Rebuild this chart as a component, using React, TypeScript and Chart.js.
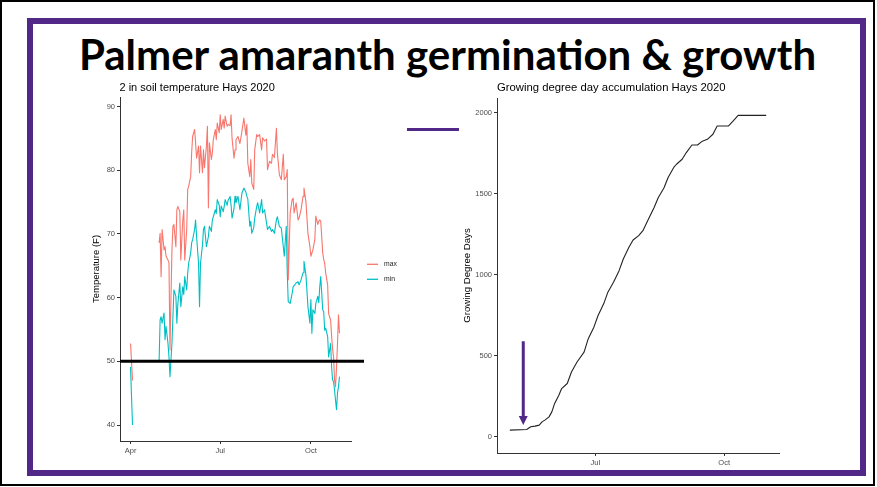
import React, { useEffect, useRef } from 'react';
import { Chart, registerables } from 'chart.js';

Chart.register(...registerables);

const FONT = '"Liberation Sans", Arial, Helvetica, sans-serif';
const PURPLE = '#512888';

// ---- shared month ticks (days counted from Apr 1) ----
const monthTickDays = [0, 91, 183];
const monthTickLabels = ['Apr', 'Jul', 'Oct'];

// ---- left chart: 2 in soil temperature ----
const tempTicks = [40, 50, 60, 70, 80, 90];
const seriesNames = ['max', 'min'];
const seriesColors = ['#F8766D', '#00BFC4'];
const threshold = 50;

const soilDays = [
  0, 1, 2, 15, 29, 30, 31, 32, 34, 35,
  36, 38, 39, 40, 42, 43, 44, 46, 47, 48,
  50, 51, 53, 54, 55, 57, 58, 59, 61, 62,
  63, 65, 66, 67, 69, 70, 71, 73, 74, 75,
  77, 78, 79, 80, 82, 83, 84, 86, 87, 88,
  90, 91, 92, 94, 95, 96, 98, 99, 101, 102,
  103, 105, 106, 107, 109, 111, 113, 115, 117, 118,
  119, 121, 122, 123, 125, 126, 128, 129, 131, 133,
  134, 136, 138, 139, 141, 143, 144, 146, 148, 149,
  151, 153, 155, 156, 158, 159, 160, 162, 164, 165,
  166, 168, 170, 171, 173, 175, 176, 178, 180, 182,
  183, 184, 185, 187, 188, 190, 191, 192, 193, 195,
  196, 197, 198, 200, 201, 203, 204, 205, 206, 207,
  208, 209, 210, 211, 212,
];
const maxTemp = [
  52.8, 50, 47, null, 68.6, 70.1, 63.3, 70.7, 67.5, 68,
  66.5, 65.9, 65.5, 51.8, 67.5, 71.2, 71.5, 68, 73.8, 74.3,
  73.5, 65.9, 72.2, 73.8, 65.9, 70.7, 77, 77.5, 79, 82.7,
  85.3, 86.4, 84.3, 81.9, 83.8, 79.6, 83.8, 79.6, 83.2, 80.4,
  83.8, 86.9, 74.1, 84.3, 81.7, 82.7, 84.8, 86.4, 84.8, 87.4,
  85.9, 88.7, 86.4, 88, 86.6, 88.5, 86.9, 87.2, 87, 88.7,
  85, 81.9, 83.2, 84.8, 85.3, 84.2, 86.1, 88.2, 85.5, 87.2,
  81.1, 79, 81.7, 78, 77, 83.2, 85.6, 85.3, 85.6, 83.2,
  85.1, 84.6, 84.9, 80.1, 81.4, 81.1, 82.5, 82, 86.6, 82.7,
  79.3, 78.5, 82.5, 78.5, 79, 80.1, 62.8, 73.3, 75.4, 75.6,
  73.3, 74.9, 72.2, 72.5, 73.8, 75.9, 77.2, 75, 70.1, 68,
  66.5, 67, 67.5, 69.1, 72.8, 71.5, 72, 72.2, 72, 67,
  66, 65.4, 63.9, 62, 57.5, 56.5, 54, 52, 50.7, 47.1,
  46, 49, 52.8, 57.3, 54.4,
];
const minTemp = [
  49.1, 44.5, 40, null, 50.2, 56.5, 57, 56, 57.6, 53.4,
  55.5, 52.8, 50.7, 47.6, 52.8, 57, 61.2, 60.2, 56, 59,
  62.3, 58.6, 61.7, 60.5, 63.3, 61.2, 63.9, 65.4, 67, 68.6,
  69.1, 70.7, 72.2, 69.6, 65.4, 58.6, 65.4, 68.3, 70.7, 71.2,
  68, 68.8, 69.6, 71.2, 70.4, 72.2, 72.7, 73.8, 73.2, 75.4,
  74.5, 72.7, 74.4, 73.5, 74.3, 75.4, 74.5, 75.3, 75.9, 74.5,
  72.5, 74, 75.9, 74.9, 75.9, 73.8, 76.4, 77.2, 76.6, 75.9,
  75.5, 71.2, 72, 70.1, 71, 72.5, 74.3, 74.9, 73.3, 75.4,
  73.3, 73.8, 71.7, 70.7, 71.2, 70.4, 70.7, 70.1, 72.2, 72.7,
  71.2, 70.9, 68, 66.5, 71.2, 64, 59.4, 59.1, 60.7, 61.7,
  61.9, 62.3, 62.5, 62, 62.8, 63.9, 65.7, 63.5, 58.6, 56,
  59.7, 54.4, 58.1, 57.5, 59.1, 60.2, 59.2, 61.7, 63.3, 58.1,
  57.8, 54.9, 55.2, 53.9, 50.7, 52.8, 49.2, 47.1, 46.8, 45.5,
  43.9, 42.4, 45, 46, 47.6,
];

// ---- right chart: growing degree days ----
const gddTicks = [0, 500, 1000, 1500, 2000];
const gddDays = [
  30, 42, 45, 48, 51, 53, 55, 58, 60, 62,
  65, 67, 71, 74, 78, 83, 86, 90, 93, 97,
  100, 104, 108, 111, 115, 118, 122, 125, 129, 133,
  136, 140, 143, 147, 149, 153, 156, 160, 164, 167,
  171, 175, 178, 186, 189, 193, 213,
];
const gddValues = [
  41, 45, 62, 66, 72, 92, 103, 123, 154, 206,
  257, 298, 329, 400, 462, 523, 606, 677, 749, 821,
  893, 954, 1026, 1098, 1170, 1215, 1242, 1273, 1345, 1416,
  1478, 1536, 1601, 1663, 1683, 1714, 1755, 1802, 1802, 1823,
  1837, 1868, 1919, 1919, 1946, 1985, 1985,
];
// annotation arrow (day, from GDD, to GDD)
const arrowDay = 39.6;
const arrowFrom = 590;
const arrowTo = 73;

function axis(tickVals: number[], labels: string[] | null, fit: (s: any) => void) {
  return {
    type: 'linear' as const,
    border: { display: true, color: '#333333', width: 1 },
    grid: {
      display: true,
      drawOnChartArea: false,
      drawTicks: true,
      tickLength: 3,
      tickColor: '#333333',
      tickWidth: 1,
    },
    ticks: {
      color: '#4D4D4D',
      font: { family: FONT, size: 7.5 },
      padding: 2,
      autoSkip: false,
      maxRotation: 0,
      minRotation: 0,
      callback: (v: any, i: number) => (labels ? labels[i] : String(v)),
    },
    afterBuildTicks: (s: any) => {
      s.ticks = tickVals.map((v) => ({ value: v }));
    },
    afterFit: fit,
  };
}

const leftDecor = {
  id: 'leftDecor',
  afterDatasetsDraw(chart: any) {
    const { ctx, chartArea, scales } = chart;
    const py = scales.y.getPixelForValue(threshold);
    ctx.save();
    ctx.strokeStyle = '#000';
    ctx.lineWidth = 3;
    ctx.beginPath();
    ctx.moveTo(chartArea.left, py);
    ctx.lineTo(chartArea.right + 13, py);
    ctx.stroke();
    ctx.restore();
  },
  afterDraw(chart: any) {
    const { ctx, chartArea } = chart;
    ctx.save();
    ctx.fillStyle = '#000';
    ctx.font = `11px ${FONT}`;
    ctx.textAlign = 'left';
    ctx.textBaseline = 'alphabetic';
    ctx.fillText('2 in soil temperature Hays 2020', chartArea.left - 0.5, 15);
    // y title
    ctx.save();
    ctx.translate(11, (chartArea.top + chartArea.bottom) / 2);
    ctx.rotate(-Math.PI / 2);
    ctx.textAlign = 'center';
    ctx.font = `9.5px ${FONT}`;
    ctx.fillText('Temperature (F)', 0, 0);
    ctx.restore();
    // legend
    const cy = (chartArea.top + chartArea.bottom) / 2;
    const ys = [cy - 4.7, cy + 10.3];
    seriesNames.forEach((name, i) => {
      ctx.strokeStyle = seriesColors[i];
      ctx.lineWidth = 1.3;
      ctx.beginPath();
      ctx.moveTo(chartArea.right + 16, ys[i]);
      ctx.lineTo(chartArea.right + 27, ys[i]);
      ctx.stroke();
      ctx.fillStyle = '#222';
      ctx.font = `6.8px ${FONT}`;
      ctx.textBaseline = 'middle';
      ctx.fillText(name, chartArea.right + 33, ys[i]);
    });
    ctx.restore();
  },
};

const rightDecor = {
  id: 'rightDecor',
  afterDraw(chart: any) {
    const { ctx, chartArea, scales } = chart;
    ctx.save();
    ctx.fillStyle = '#000';
    ctx.font = `11.3px ${FONT}`;
    ctx.textAlign = 'left';
    ctx.textBaseline = 'alphabetic';
    ctx.fillText('Growing degree day accumulation Hays 2020', chartArea.left, 15);
    ctx.save();
    ctx.translate(14.5, (chartArea.top + chartArea.bottom) / 2);
    ctx.rotate(-Math.PI / 2);
    ctx.textAlign = 'center';
    ctx.font = `9.6px ${FONT}`;
    ctx.fillText('Growing Degree Days', 0, 0);
    ctx.restore();
    // arrow annotation
    const ax = scales.x.getPixelForValue(arrowDay);
    const y0 = scales.y.getPixelForValue(arrowFrom);
    const y1 = scales.y.getPixelForValue(arrowTo);
    ctx.strokeStyle = PURPLE;
    ctx.fillStyle = PURPLE;
    ctx.lineWidth = 3;
    ctx.beginPath();
    ctx.moveTo(ax, y0);
    ctx.lineTo(ax, y1 - 7);
    ctx.stroke();
    ctx.beginPath();
    ctx.moveTo(ax - 4.5, y1 - 9);
    ctx.lineTo(ax + 4.5, y1 - 9);
    ctx.lineTo(ax, y1);
    ctx.closePath();
    ctx.fill();
    ctx.restore();
  },
};

export default function App() {
  const leftRef = useRef<HTMLCanvasElement>(null);
  const rightRef = useRef<HTMLCanvasElement>(null);

  useEffect(() => {
    const left = new Chart(leftRef.current as HTMLCanvasElement, {
      type: 'line',
      data: {
        datasets: [
          {
            label: seriesNames[1],
            data: soilDays.map((d, i) => ({ x: d, y: minTemp[i] })) as any,
            borderColor: seriesColors[1],
            borderWidth: 1.1,
            pointRadius: 0,
            tension: 0,
            spanGaps: false,
            borderJoinStyle: 'round',
          },
          {
            label: seriesNames[0],
            data: soilDays.map((d, i) => ({ x: d, y: maxTemp[i] })) as any,
            borderColor: seriesColors[0],
            borderWidth: 1.1,
            pointRadius: 0,
            tension: 0,
            spanGaps: false,
            borderJoinStyle: 'round',
          },
        ],
      },
      options: {
        animation: false,
        responsive: false,
        events: [],
        layout: { padding: { top: 21, left: 0, right: 57, bottom: 5 } },
        plugins: {
          legend: { display: false },
          title: { display: false },
          tooltip: { enabled: false },
        },
        scales: {
          x: {
            ...axis(monthTickDays, monthTickLabels, (s: any) => {
              s.height = 20;
            }),
            min: -10.7,
            max: 223.7,
          },
          y: {
            ...axis(tempTicks, null, (s: any) => {
              s.width = 32;
            }),
            min: 37.5,
            max: 91.5,
          },
        },
      } as any,
      plugins: [leftDecor],
    });

    const right = new Chart(rightRef.current as HTMLCanvasElement, {
      type: 'line',
      data: {
        datasets: [
          {
            label: 'GDD',
            data: gddDays.map((d, i) => ({ x: d, y: gddValues[i] })) as any,
            borderColor: '#222222',
            borderWidth: 1.1,
            pointRadius: 0,
            tension: 0,
            borderJoinStyle: 'round',
          },
        ],
      },
      options: {
        animation: false,
        responsive: false,
        events: [],
        layout: { padding: { top: 22, left: 0, right: 6, bottom: 2 } },
        plugins: {
          legend: { display: false },
          title: { display: false },
          tooltip: { enabled: false },
        },
        scales: {
          x: {
            ...axis(monthTickDays.slice(1), monthTickLabels.slice(1), (s: any) => {
              s.height = 16;
            }),
            min: 20.85,
            max: 222.15,
          },
          y: {
            ...axis(gddTicks, null, (s: any) => {
              s.width = 42;
            }),
            min: -100,
            max: 2092,
          },
        },
      } as any,
      plugins: [rightDecor],
    });

    return () => {
      left.destroy();
      right.destroy();
    };
  }, []);

  return (
    <div
      style={{
        position: 'fixed',
        left: 0,
        top: 0,
        width: 877,
        height: 487,
        background: '#ffffff',
        overflow: 'hidden',
      }}
    >
      <div
        style={{
          position: 'absolute',
          left: 0,
          top: 0,
          width: 875,
          height: 486,
          border: '2px solid #000',
          boxSizing: 'border-box',
        }}
      />
      <div
        style={{
          position: 'absolute',
          left: 27,
          top: 18,
          width: 839,
          height: 458,
          border: `6px solid ${PURPLE}`,
          boxSizing: 'border-box',
        }}
      />
      <div
        style={{
          position: 'absolute',
          left: 0,
          top: 33,
          width: 895,
          textAlign: 'center',
          fontFamily: 'Lato, "Open Sans", sans-serif',
          fontWeight: 700,
          fontSize: 42,
          lineHeight: '42px',
          color: '#000',
          whiteSpace: 'nowrap',
        }}
      >
        Palmer amaranth germination &amp; growth
      </div>
      <canvas
        ref={leftRef}
        width={320}
        height={390}
        style={{ position: 'absolute', left: 88, top: 76, width: 320, height: 390 }}
      />
      <canvas
        ref={rightRef}
        width={330}
        height={395}
        style={{ position: 'absolute', left: 455, top: 76, width: 330, height: 395 }}
      />
      <div
        style={{
          position: 'absolute',
          left: 407,
          top: 128,
          width: 52,
          height: 3,
          background: PURPLE,
        }}
      />
    </div>
  );
}
